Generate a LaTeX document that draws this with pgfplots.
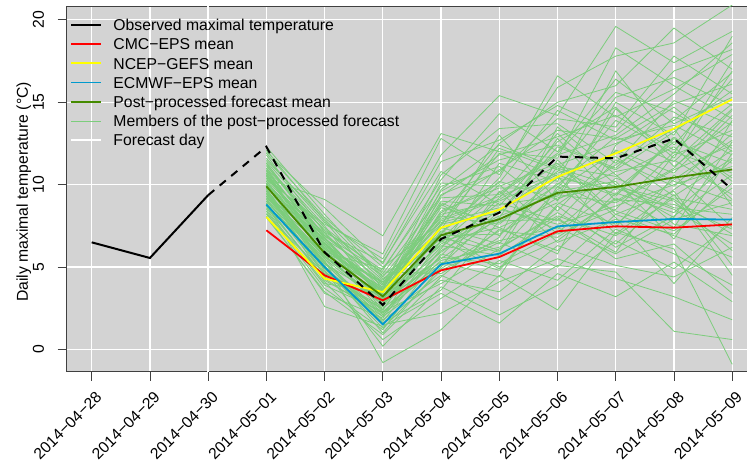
\documentclass[border=0pt]{standalone}
\usepackage{pgfplots}
\pgfplotsset{compat=1.18}
\usepackage{fontspec}
\setmainfont{Liberation Sans}
\definecolor{bg}{RGB}{211,211,211}
\definecolor{cmc}{RGB}{255,0,0}
\definecolor{ncep}{RGB}{255,255,0}
\definecolor{ecmwf}{RGB}{0,154,205}
\definecolor{ppm}{RGB}{69,139,0}
\definecolor{memc}{RGB}{124,205,124}
\newcommand\fnt{\fontsize{15.8}{19}\selectfont}
\newcommand\lent[1]{\hspace*{11bp}#1}
\newcommand\mem[9]{\addplot[member] coordinates {(3,#1)(4,#2)(5,#3)(6,#4)(7,#5)(8,#6)(9,#7)(10,#8)(11,#9)};}
\begin{document}
\begin{tikzpicture}
\begin{axis}[
 scale only axis, width=681.8bp, height=365.7bp,
 xmin=-0.429, xmax=11.28, ymin=-1.35, ymax=20.84,
 axis background/.style={fill=bg},
 axis line style={black!75, line width=0.9bp},
 xtick={0,...,11},
 xticklabels={2014−04−28,2014−04−29,2014−04−30,2014−05−01,2014−05−02,2014−05−03,2014−05−04,2014−05−05,2014−05−06,2014−05−07,2014−05−08,2014−05−09},
 ytick={0,5,10,15,20},
 xtick pos=lower, ytick pos=left,
 tick align=outside, major tick length=9bp,
 tick style={black!75, line width=0.8bp},
 grid=major, major grid style={white, line width=1.2bp},
 font=\fnt,
 tick label style={font=\fnt},
 label style={font=\fnt},
 /pgf/number format/assume math mode=true,
 xticklabel style={xshift=7.3bp, yshift=-13.3bp, rotate=45, anchor=east, inner sep=0pt},
 yticklabel style={xshift=-13.5bp, rotate=90, anchor=south, inner sep=0pt},
 every axis y label/.style={at={(rel axis cs:0,0.5)}, xshift=-38.7bp, yshift=-3bp, rotate=90, anchor=base, inner sep=0pt},
 ylabel={Daily maximal temperature (°C)},
 member/.style={memc, line width=0.8bp, forget plot},
 legend style={at={(rel axis cs:0,1)}, anchor=north west, xshift=3.3bp, yshift=-9.4bp,
   draw=none, fill=none, inner sep=0pt, outer sep=0pt, row sep=0pt,
   nodes={inner sep=0pt, text height=15.3bp, text depth=3.9bp},
   font=\fnt},
 legend cell align=left,
 legend image code/.code={\draw[#1] (0bp,0bp) -- (30bp,0bp);},
]
\coordinate (bl) at (rel axis cs:0,0);
\addlegendimage{black, line width=2bp}
\addlegendentry{\lent{Observed maximal temperature}}
\addlegendimage{cmc, line width=1.8bp}
\addlegendentry{\lent{CMC−EPS mean}}
\addlegendimage{ncep, line width=1.8bp}
\addlegendentry{\lent{NCEP−GEFS mean}}
\addlegendimage{ecmwf, line width=1.8bp}
\addlegendentry{\lent{ECMWF−EPS mean}}
\addlegendimage{ppm, line width=1.8bp}
\addlegendentry{\lent{Post−processed forecast mean}}
\addlegendimage{memc, line width=0.8bp}
\addlegendentry{\lent{Members of the post−processed forecast}}
\addlegendimage{white, line width=2.5bp}
\addlegendentry{\lent{Forecast day}}
% forecast day
\addplot[white, line width=2.5bp, forget plot] coordinates {(2,-5) (2,25)};
% members
\mem{10.2}{6.1}{3.5}{7.8}{9.1}{11.2}{12.5}{13.9}{16.8}
\mem{9.5}{5.2}{2.1}{5.4}{6.2}{8.1}{6.9}{9.2}{8.5}
\mem{11.1}{7.4}{4.6}{9.3}{11.8}{12.9}{14.2}{12.1}{14.9}
\mem{8.8}{4.9}{1.8}{4.2}{3.5}{6.3}{5.1}{4.4}{6.2}
\mem{10.6}{6.3}{3.9}{8.1}{7.6}{10.4}{9.7}{12.6}{11.3}
\mem{9.1}{5.5}{2.7}{6.2}{8.9}{7.8}{11.5}{9.9}{13.1}
\mem{12.0}{8.6}{5.2}{11.4}{12.7}{14.8}{13.2}{16.9}{18.2}
\mem{9.8}{4.1}{0.6}{3.1}{5.4}{4.2}{7.3}{5.8}{3.9}
\mem{10.4}{6.8}{3.1}{7.1}{10.2}{9.1}{10.8}{11.5}{9.4}
\mem{8.3}{3.7}{1.2}{5.8}{4.8}{8.7}{6.2}{8.1}{10.6}
\mem{11.5}{7.9}{4.3}{6.5}{9.5}{11.9}{15.6}{14.4}{12.2}
\mem{9.3}{5.6}{3.8}{8.8}{6.9}{10.1}{8.4}{7.2}{9.8}
\mem{10.9}{6.5}{2.4}{7.6}{8.3}{12.3}{10.9}{13.2}{15.7}
\mem{8.9}{4.6}{2.9}{4.9}{7.2}{6.8}{9.1}{8.8}{7.3}
\mem{10.1}{5.9}{4.9}{9.9}{11.1}{8.4}{12.1}{10.7}{14.2}
\mem{9.6}{6.7}{3.3}{6.8}{5.9}{11.5}{8.2}{9.6}{5.1}
\mem{11.8}{7.1}{3.6}{10.6}{13.4}{13.7}{11.3}{15.1}{13.6}
\mem{9.0}{5.0}{1.5}{2.2}{4.1}{5.5}{4.3}{3.2}{1.8}
\mem{10.7}{6.0}{3.0}{8.4}{9.8}{9.8}{13.9}{11.9}{17.5}
\mem{8.6}{4.4}{2.5}{5.2}{6.6}{7.4}{5.8}{7.9}{8.9}
\mem{10.3}{7.6}{5.8}{12.8}{10.6}{15.9}{17.8}{18.6}{20.9}
\mem{9.4}{5.3}{2.2}{6.0}{7.9}{9.6}{10.2}{6.7}{11.9}
\mem{11.3}{6.9}{4.1}{7.3}{12.2}{10.9}{9.4}{12.9}{10.2}
\mem{9.7}{4.8}{0.2}{3.8}{2.1}{3.9}{6.6}{4.9}{7.7}
\mem{10.0}{6.4}{3.4}{9.0}{8.7}{12.6}{14.7}{11.1}{13.8}
\mem{8.1}{3.4}{1.9}{6.6}{7.4}{8.9}{7.6}{10.3}{12.7}
\mem{12.3}{8.2}{4.4}{8.7}{10.9}{13.3}{12.8}{14.9}{16.1}
\mem{9.2}{5.7}{2.8}{5.6}{5.2}{7.1}{9.8}{8.5}{6.4}
\mem{10.5}{6.2}{3.6}{7.9}{9.3}{10.7}{11.7}{9.3}{11.6}
\mem{8.7}{4.3}{2.0}{4.5}{3.0}{5.1}{4.7}{1.1}{0.6}
\mem{11.0}{7.2}{4.8}{10.3}{14.3}{12.0}{16.4}{13.7}{15.3}
\mem{9.9}{5.8}{3.2}{6.4}{8.1}{9.4}{8.9}{10.9}{12.4}
\mem{10.8}{6.6}{2.6}{7.4}{6.4}{11.1}{10.5}{12.3}{9.1}
\mem{9.3}{5.1}{1.0}{5.0}{9.6}{6.5}{7.9}{7.0}{10.1}
\mem{11.6}{7.7}{5.5}{11.8}{15.4}{14.2}{19.6}{17.4}{19.3}
\mem{8.4}{3.9}{2.3}{4.0}{6.1}{8.3}{6.4}{9.4}{4.5}
\mem{10.2}{6.1}{3.7}{8.6}{7.7}{10.0}{12.9}{11.4}{14.6}
\mem{9.0}{5.4}{-0.8}{1.2}{4.5}{2.4}{7.1}{6.1}{-0.9}
\mem{10.6}{7.0}{4.0}{9.6}{11.5}{12.4}{11.0}{14.1}{12.9}
\mem{9.6}{5.6}{2.9}{6.9}{7.0}{9.2}{10.0}{8.6}{8.2}
\mem{11.2}{6.7}{4.5}{7.0}{10.4}{16.6}{14.1}{15.8}{17.9}
\mem{8.9}{2.6}{1.4}{3.4}{1.6}{4.6}{3.2}{5.3}{2.9}
\mem{10.4}{9.1}{6.9}{13.1}{12.0}{11.6}{18.3}{16.0}{14.0}
\mem{9.5}{5.2}{3.1}{5.9}{8.5}{7.6}{8.7}{10.0}{11.1}
\mem{10.9}{6.4}{3.9}{8.2}{9.0}{10.6}{9.3}{12.8}{10.4}
\mem{10.0}{5.0}{2.0}{7.5}{13.0}{9.0}{15.0}{13.0}{19.0}
\mem{9.8}{6.9}{4.7}{4.6}{6.8}{13.5}{10.6}{7.6}{6.9}
\mem{11.4}{7.5}{2.9}{8.9}{7.4}{5.8}{12.4}{14.7}{12.0}
\mem{8.5}{4.0}{3.4}{10.1}{9.9}{11.3}{8.0}{4.0}{8.0}
\mem{10.7}{5.5}{1.7}{6.1}{11.3}{10.2}{16.9}{12.4}{16.4}
\mem{9.2}{6.2}{3.0}{5.3}{4.4}{9.9}{7.4}{11.8}{13.3}
\mem{11.9}{8.0}{5.0}{7.7}{8.6}{7.3}{10.4}{9.1}{7.0}
\mem{9.6}{4.5}{2.6}{9.4}{10.8}{14.0}{13.5}{17.8}{15.5}
\mem{10.3}{6.6}{3.5}{6.3}{5.7}{8.0}{5.5}{6.4}{3.4}
\mem{8.0}{3.5}{0.9}{4.4}{7.3}{6.0}{9.5}{8.3}{11.5}
\mem{10.5}{7.3}{4.2}{8.0}{12.5}{15.0}{16.0}{19.5}{17.0}
\mem{9.1}{4.7}{2.4}{7.2}{6.0}{9.7}{12.0}{10.2}{9.0}
\mem{11.0}{6.3}{3.3}{5.5}{8.0}{12.8}{9.0}{11.0}{14.5}
\mem{8.6}{5.9}{4.1}{6.7}{10.0}{7.0}{8.5}{12.0}{10.7}
\mem{10.1}{4.9}{1.3}{4.8}{6.5}{5.0}{8.2}{6.9}{5.6}
\mem{12.1}{7.8}{3.7}{9.2}{9.4}{11.8}{13.0}{15.5}{18.6}
\mem{9.4}{6.4}{4.0}{7.6}{11.9}{10.5}{7.0}{9.7}{12.1}
\mem{10.8}{5.7}{2.7}{6.6}{4.9}{8.8}{11.2}{13.4}{8.7}
\mem{8.8}{4.2}{2.2}{5.7}{9.2}{13.1}{10.0}{8.0}{13.9}
\mem{10.0}{7.1}{5.3}{10.8}{8.8}{9.3}{14.6}{11.6}{16.9}
\mem{9.7}{5.3}{1.6}{3.6}{7.8}{7.9}{5.9}{10.6}{7.4}
\mem{11.3}{6.8}{3.2}{8.3}{10.1}{14.5}{12.7}{13.6}{11.8}
\mem{9.3}{5.8}{3.6}{7.0}{5.0}{6.6}{9.2}{7.4}{12.6}
\mem{10.6}{6.0}{2.3}{5.1}{8.4}{10.8}{15.3}{16.5}{14.8}
\mem{8.2}{4.6}{3.0}{9.7}{12.4}{11.0}{9.9}{9.0}{6.0}
% means
\addplot[cmc, line width=1.8bp, forget plot] coordinates {(3,7.23)(4,4.5)(5,2.98)(6,4.8)(7,5.61)(8,7.17)(9,7.47)(10,7.39)(11,7.59)};
\addplot[ncep, line width=1.8bp, forget plot] coordinates {(3,8.04)(4,4.3)(5,3.48)(6,7.39)(7,8.48)(8,10.47)(9,11.9)(10,13.4)(11,15.17)};
\addplot[ecmwf, line width=1.8bp, forget plot] coordinates {(3,8.79)(4,5.0)(5,1.52)(6,5.17)(7,5.81)(8,7.47)(9,7.73)(10,7.92)(11,7.88)};
\addplot[ppm, line width=1.8bp, forget plot] coordinates {(3,9.9)(4,5.85)(5,3.22)(6,6.93)(7,7.9)(8,9.5)(9,9.86)(10,10.43)(11,10.92)};
% observed
\addplot[black, line width=2bp, forget plot] coordinates {(0,6.5)(1,5.55)(2,9.36)};
\addplot[black, line width=2bp, dash pattern=on 8bp off 7bp, forget plot] coordinates {(2,9.36)(3,12.3)(4,5.9)(5,2.7)(6,6.7)(7,8.3)(8,11.7)(9,11.6)(10,12.8)(11,9.7)};
\end{axis}
\pgfresetboundingbox
\path (bl) ++(-66.7bp,-91.3bp) rectangle ++(747bp,463bp);
\end{tikzpicture}
\end{document}
